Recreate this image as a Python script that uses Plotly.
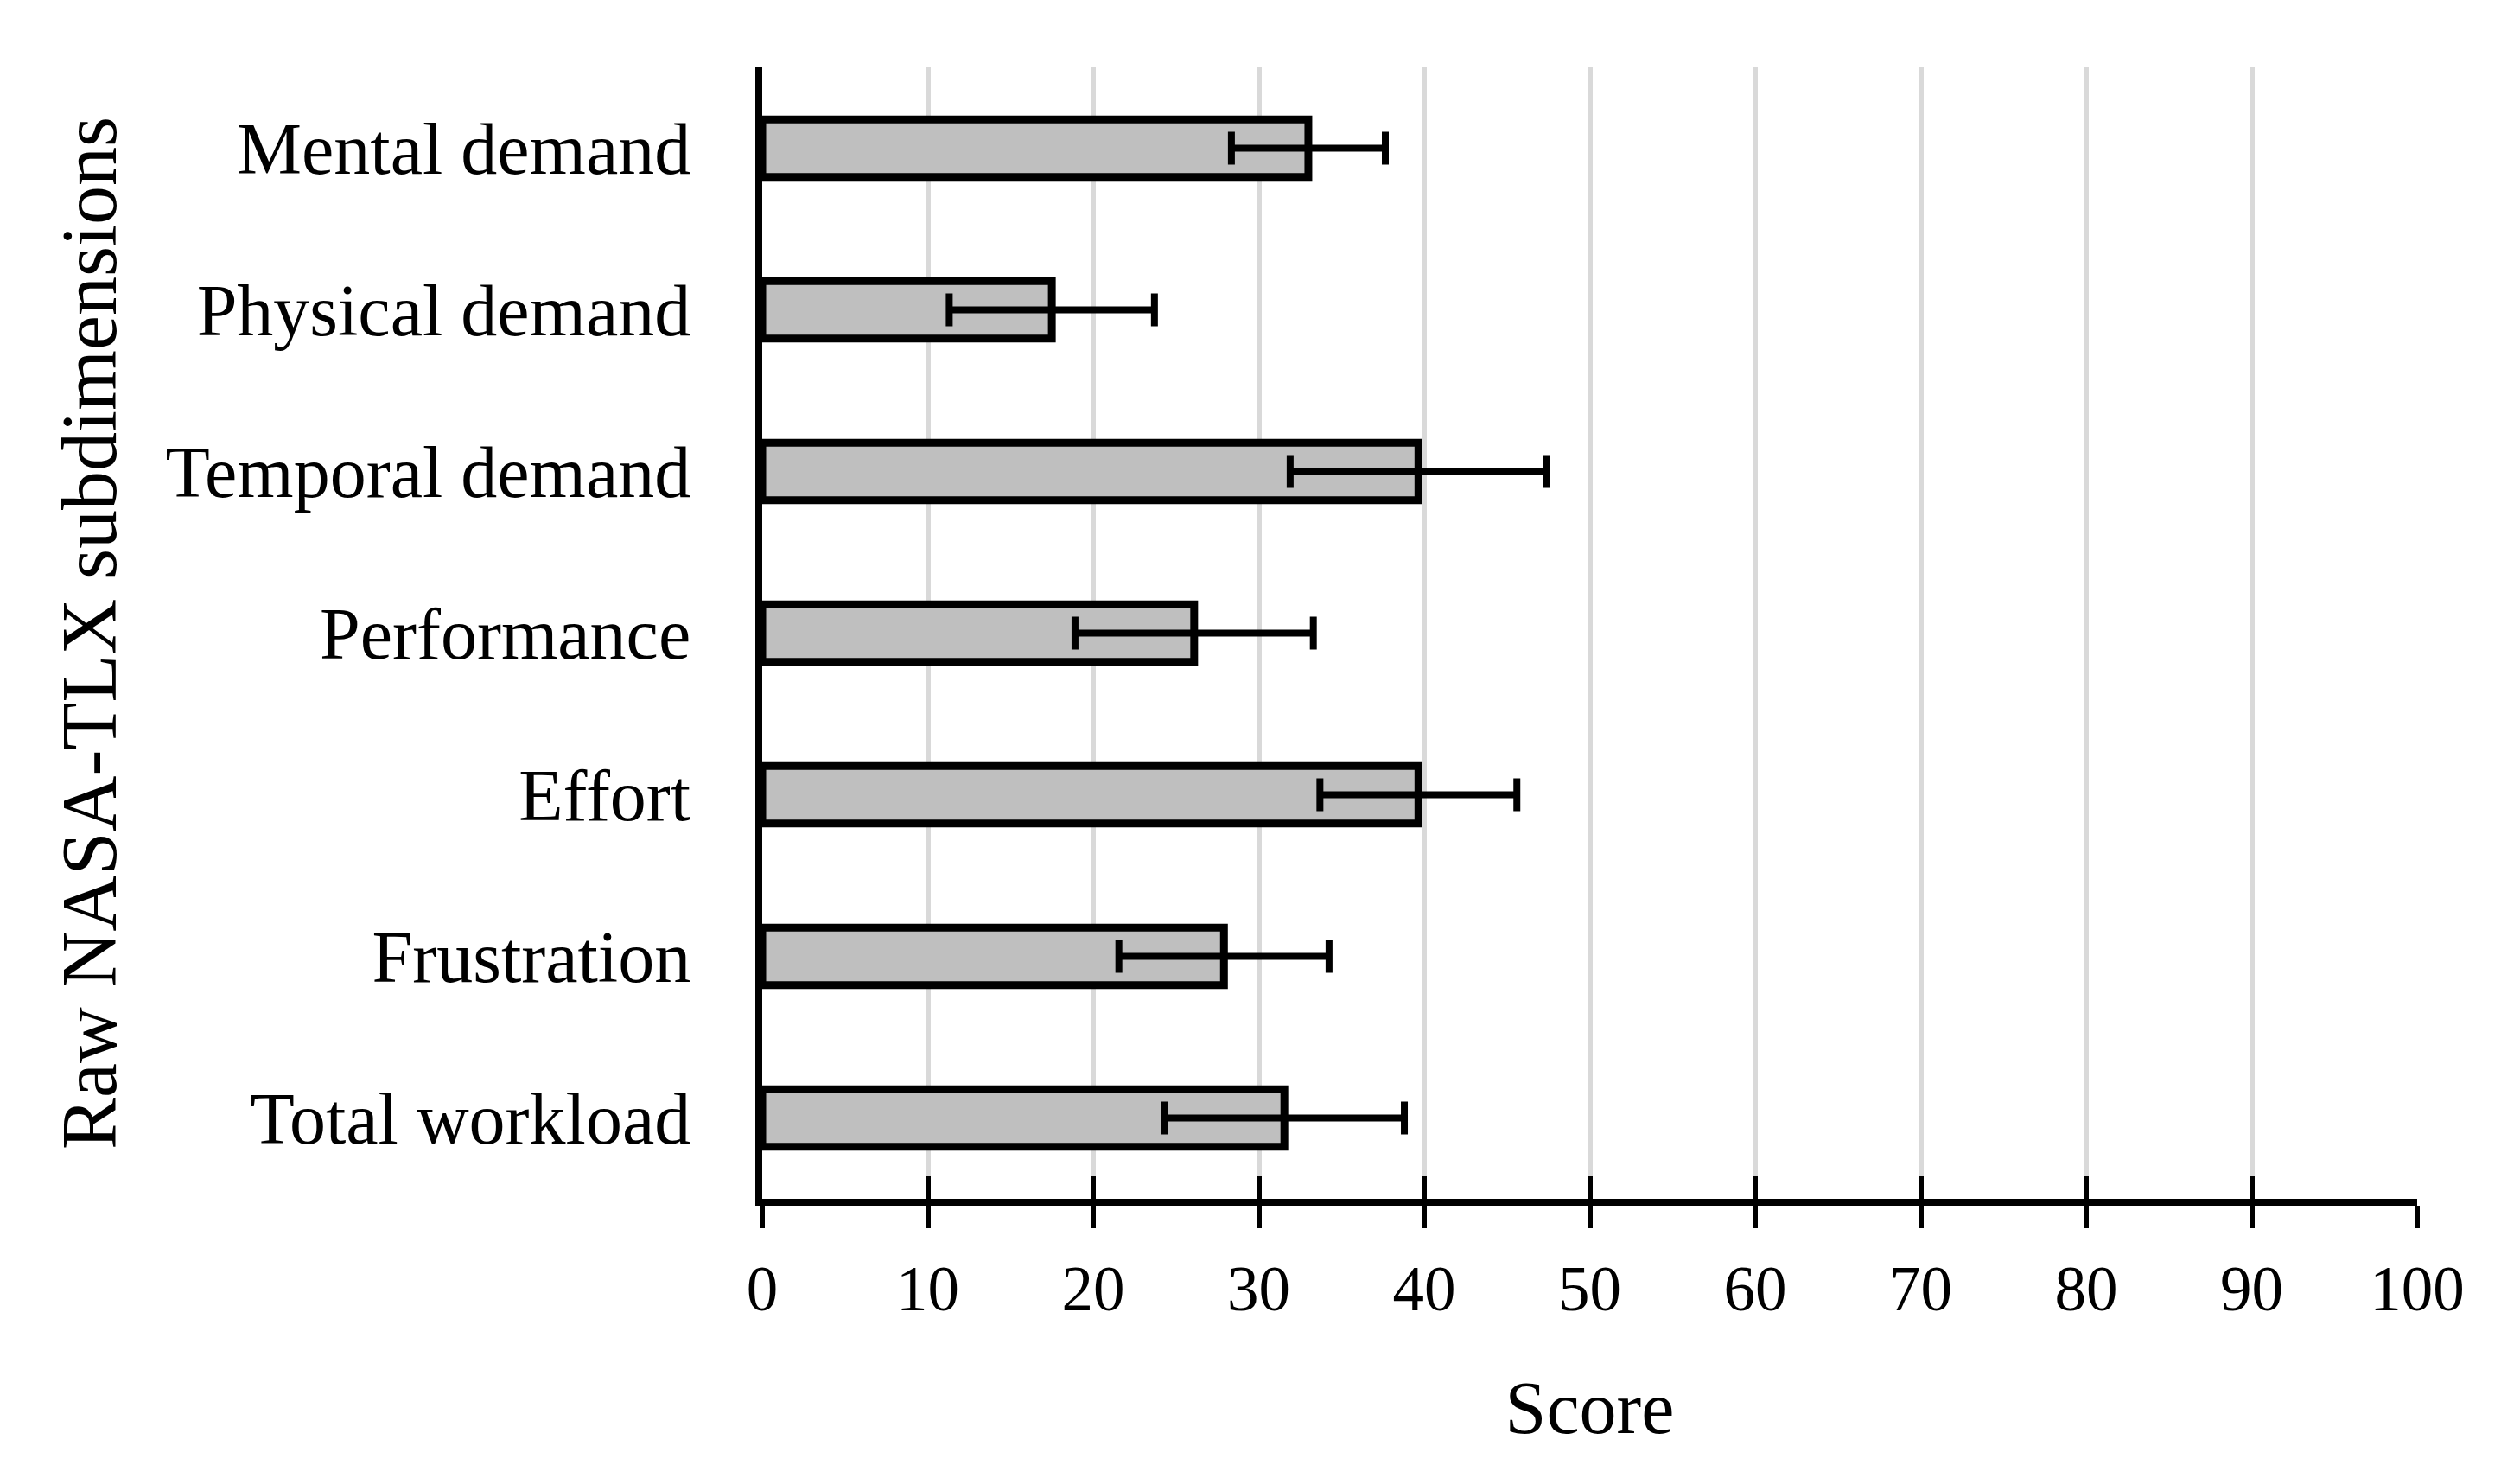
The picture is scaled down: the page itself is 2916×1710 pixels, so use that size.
import plotly.graph_objects as go

categories = ["Mental demand", "Physical demand", "Temporal demand", "Performance",
              "Effort", "Frustration", "Total workload"]
scores = [33.0, 17.5, 39.65, 26.1, 39.65, 27.9, 31.55]
errors = [4.65, 6.2, 7.75, 7.2, 5.95, 6.35, 7.25]
x_ticks = [0, 10, 20, 30, 40, 50, 60, 70, 80, 90, 100]

FONT = "Liberation Serif"

fig = go.Figure()
fig.add_trace(go.Bar(
    y=categories, x=scores, orientation="h",
    marker=dict(color="#bfbfbf", line=dict(color="black", width=9)),
    error_x=dict(type="data", array=errors, visible=True, color="black",
                 thickness=8, width=19),
    showlegend=False,
))
# invisible helper trace for the overlay axis (inside half of the crossing ticks)
fig.add_trace(go.Scatter(x=[0, 100], y=[categories[0], categories[0]], xaxis="x2",
                         mode="markers", marker=dict(opacity=0), showlegend=False,
                         hoverinfo="skip"))

fig.update_layout(
    width=2916, height=1710,
    margin=dict(l=874, r=127, t=70, b=331),
    paper_bgcolor="white", plot_bgcolor="white",
    bargap=0.645,
    font=dict(family=FONT, color="black"),
    xaxis=dict(
        range=[0, 100], tickvals=x_ticks, ticktext=[str(v) for v in x_ticks],
        showgrid=True, gridcolor="#d9d9d9", gridwidth=6,
        showline=True, linecolor="black", linewidth=8,
        ticks="outside", ticklen=26, tickwidth=6, tickcolor="black",
        ticklabelstandoff=7,
        tickfont=dict(family=FONT, size=73, color="black"),
        title=dict(text="Score", font=dict(family=FONT, size=86, color="black"), standoff=70),
        zeroline=False, fixedrange=True,
    ),
    xaxis2=dict(
        range=[0, 100], tickvals=x_ticks, overlaying="x", anchor="y", side="bottom",
        showgrid=False, showline=False, showticklabels=False,
        ticks="inside", ticklen=26, tickwidth=6, tickcolor="black",
        zeroline=False, fixedrange=True,
    ),
    yaxis=dict(
        categoryorder="array", categoryarray=categories[::-1],
        range=[-0.5, 6.5],
        showgrid=False, showline=True, linecolor="black", linewidth=8,
        ticks="", ticklabelstandoff=58,
        tickfont=dict(family=FONT, size=84, color="black"),
        title=dict(text="Raw NASA-TLX subdimensions",
                   font=dict(family=FONT, size=90, color="black"), standoff=30),
        zeroline=False, fixedrange=True,
    ),
)

fig.write_html("out.html")
